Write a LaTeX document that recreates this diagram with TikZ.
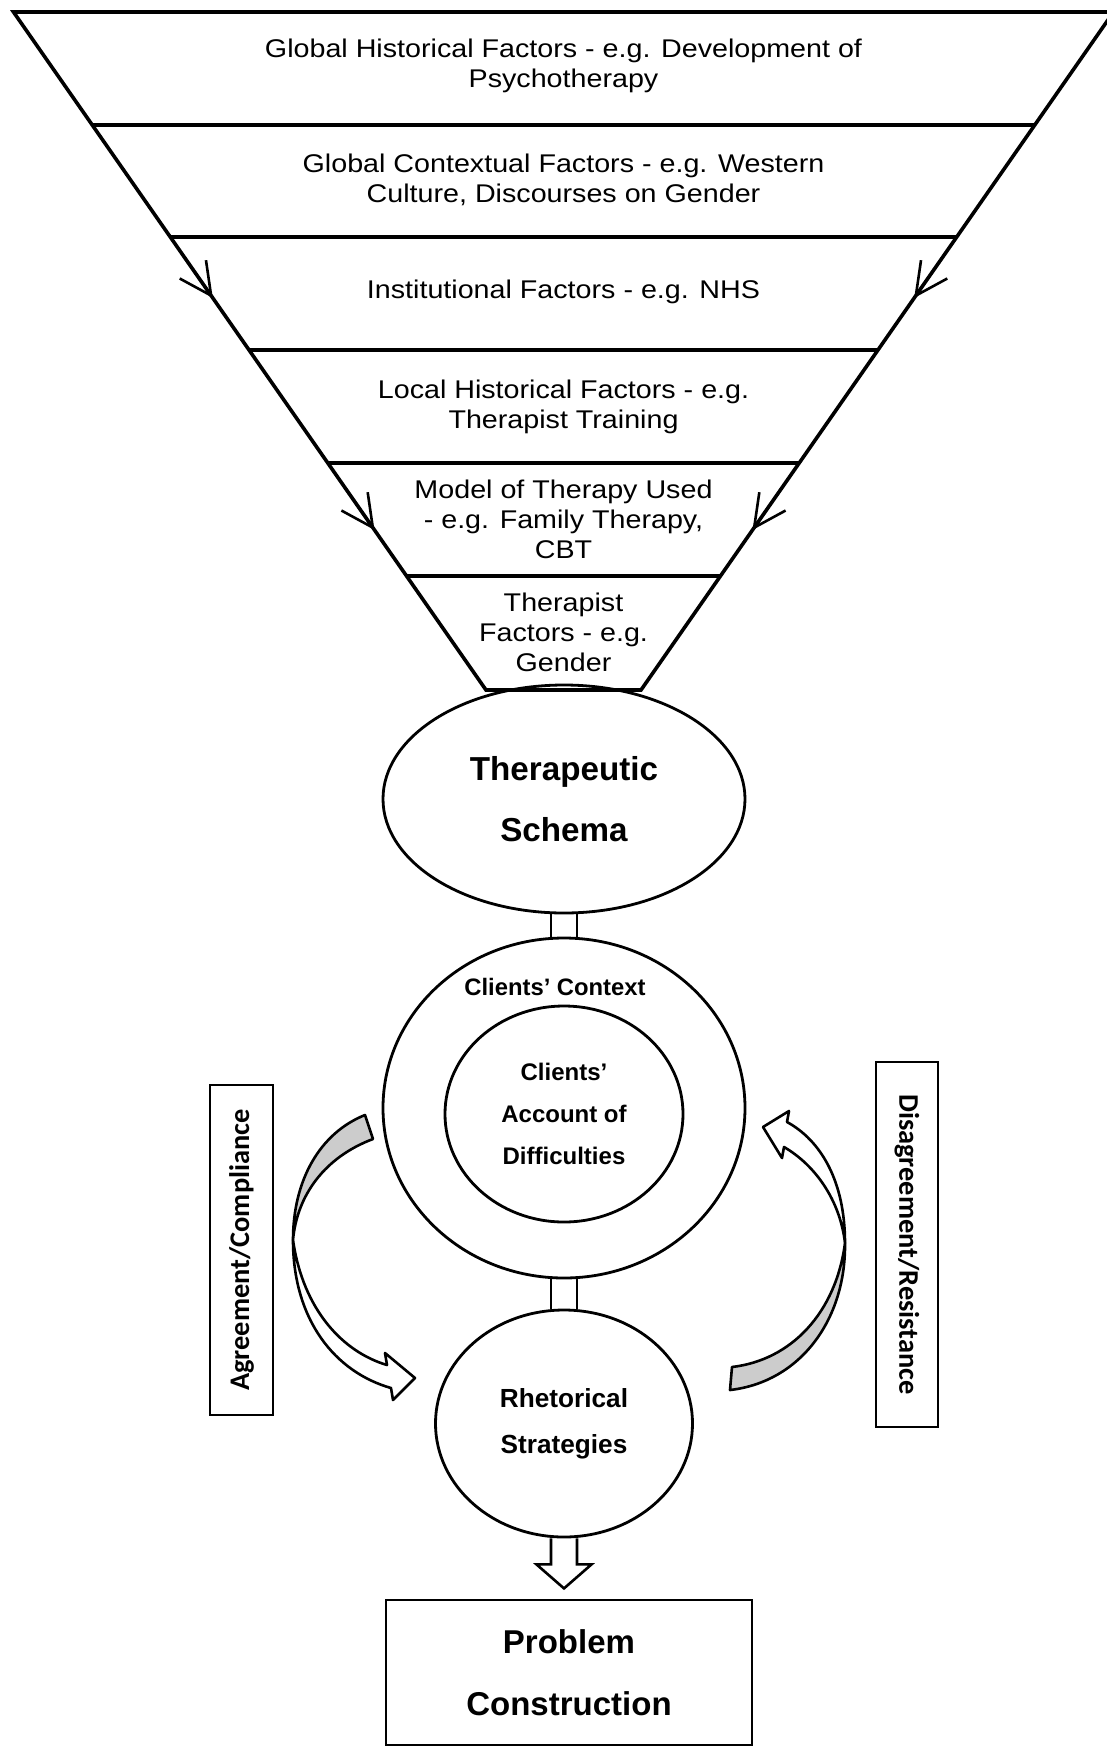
\documentclass[tikz,border=0pt]{standalone}
\usepackage{fontspec}
\setmainfont{Liberation Sans}
\newfontfamily\funnelfont{Liberation Sans}[FakeStretch=1.12]
\newfontfamily\calibfont{Carlito}
\usetikzlibrary{arrows.meta,calc,backgrounds,shapes.geometric}
\definecolor{backgray}{RGB}{204,204,204}
\begin{document}
\begin{tikzpicture}[x=0.5pt,y=-0.5pt,
  funnel/.style={line width=1.8pt},
  lvl/.style={align=center, font=\funnelfont\fontsize{12.8}{15}\selectfont, inner sep=0pt},
  edgearrow/.style={line width=1.3pt, -{Straight Barb[length=16pt,width=16pt]}},
  oval/.style={draw, ellipse, line width=1.4pt, inner sep=0pt, align=center},
  bar/.style={line width=1.2pt, double=white, double distance=11.8pt},
  sidebox/.style={draw, line width=0.8pt, inner sep=0pt, font=\calibfont\bfseries\fontsize{14.2}{16}\selectfont},
  curvearrow/.style={line width=1.3pt, line join=round},
  backface/.style={curvearrow, fill=backgray},
  frontface/.style={curvearrow, fill=white},
]
\useasboundingbox (0,0) rectangle (1107,1747);

% funnel
\coordinate (tl) at (13.5,12);
\coordinate (tr) at (1113.5,12);
\coordinate (bl) at (486,690);
\coordinate (br) at (641,690);
\draw[funnel] (tl) -- (bl) -- (br) -- (tr) -- cycle;
\foreach \t in {0.16667,0.33186,0.49853,0.66519,0.83186}
  \draw[funnel] ($(tl)!\t!(bl)$) -- ($(tr)!\t!(br)$);
\draw[edgearrow] ($(tl)!0.36!(bl)$) -- ($(tl)!0.4218!(bl)$);
\draw[edgearrow] ($(tr)!0.36!(br)$) -- ($(tr)!0.4218!(br)$);
\draw[edgearrow] ($(tl)!0.70!(bl)$) -- ($(tl)!0.764!(bl)$);
\draw[edgearrow] ($(tr)!0.70!(br)$) -- ($(tr)!0.764!(br)$);

\node[lvl] (lvl1) at (563.5,66) {Global Historical Factors - e.g. Development of\\Psychotherapy};
\node[lvl] (lvl2) at (563.5,179.5) {Global Contextual Factors - e.g. Western\\Culture, Discourses on Gender};
\node[lvl] (lvl3) at (563.5,292) {Institutional Factors - e.g. NHS};
\node[lvl] (lvl4) at (563.5,406.5) {Local Historical Factors - e.g.\\Therapist Training};
\node[lvl] (lvl5) at (563.5,519) {Model of Therapy Used\\- e.g. Family Therapy,\\CBT};
\node[lvl] (lvl6) at (563.5,632) {Therapist\\Factors - e.g.\\Gender};

% central column
\node[oval, minimum width=181pt, minimum height=114pt, font=\bfseries\fontsize{16.6}{30.5}\selectfont] (schema) at (564,799) {Therapeutic\\Schema};
\node[oval, minimum width=181pt, minimum height=170pt] (ctx) at (564,1108) {};
\node[font=\bfseries\fontsize{11.9}{14}\selectfont, inner sep=0pt] (ctxlabel) at (555,987) {Clients’ Context};
\node[oval, minimum width=119pt, minimum height=108pt, font=\bfseries\fontsize{12}{21}\selectfont] (account) at (564,1114) {Clients’\\Account of\\Difficulties};
\node[oval, minimum width=128.5pt, minimum height=113.5pt, font=\bfseries\fontsize{13.1}{23}\selectfont] (rhet) at (564,1423.5) {Rhetorical\\Strategies};
\node[draw, line width=1.4pt, minimum width=183pt, minimum height=72.5pt, align=center, font=\bfseries\fontsize{16.5}{31}\selectfont] (problem) at (569,1672.5) {Problem\\Construction};

\begin{scope}[on background layer]
\draw[bar] (schema.south) -- (ctx.north);
\draw[bar] (ctx.south) -- (rhet.north);
\end{scope}

% block arrow to problem
\draw[line width=1.3pt, line join=miter] ([xshift=-6.5pt]rhet.south) -- ++(0,26) -- ++(-14.5,0) -- ++(27.5,24) -- ++(27.5,-24) -- ++(-14.5,0) -- ++(0,-26);

% side labels
\node[sidebox, rotate=90, minimum width=165pt, minimum height=31.5pt] (agree) at (241.5,1250) {Agreement/Compliance};
\node[sidebox, rotate=-90, minimum width=182.5pt, minimum height=31pt] (disagree) at (907,1244.5) {Disagreement/Resistance};

% left curved arrow
\draw[backface] (365,1115) .. controls (320,1133) and (293,1180) .. (293,1240) .. controls (297,1195) and (325,1157) .. (373,1139) -- cycle;
\draw[frontface] (293,1240) .. controls (293,1320) and (335,1372) .. (391,1388) -- (393,1400) -- (415,1378) -- (385,1353) -- (387,1365) .. controls (343,1352) and (303,1310) .. (293,1240) -- cycle;

% right curved arrow
\draw[backface] (845,1243) .. controls (846,1320) and (800,1382) .. (730,1390) -- (732,1367) .. controls (792,1360) and (836,1312) .. (845,1243) -- cycle;
\draw[frontface] (845,1243) .. controls (845,1180) and (820,1140) .. (787,1122) -- (789,1111) -- (763,1127) -- (782,1158) -- (784,1147) .. controls (815,1165) and (840,1200) .. (845,1243) -- cycle;
\end{tikzpicture}
\end{document}
